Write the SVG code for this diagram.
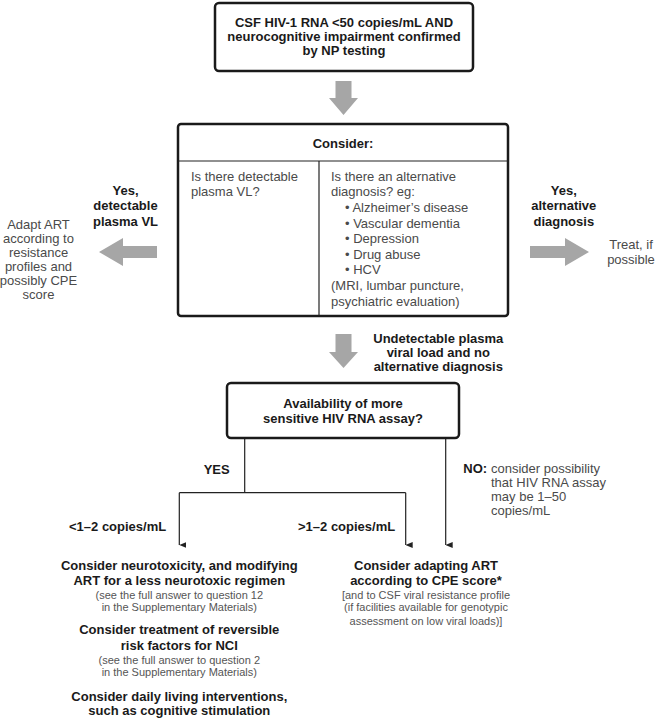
<svg xmlns="http://www.w3.org/2000/svg" width="658" height="720" viewBox="0 0 658 720">
<style>
.b{font-family:"Liberation Sans",Arial,sans-serif;font-weight:bold;font-size:13px;fill:#1a1a1a}
.r{font-family:"Liberation Sans",Arial,sans-serif;font-size:13px;fill:#4a4a4a}
.s{font-family:"Liberation Sans",Arial,sans-serif;font-size:11px;fill:#555}
.m{text-anchor:middle}
.box{fill:#fff;stroke:#1a1a1a;stroke-width:2.5}
.ln{fill:none;stroke:#222;stroke-width:1.2}
.ga{fill:#a6a6a6}
</style>
<defs>
<marker id="ah" markerWidth="6" markerHeight="7" refX="3" refY="7" orient="auto" markerUnits="userSpaceOnUse" viewBox="0 0 6 7">
<path d="M0,0 L6,0 L3,7 Z" fill="#222"/>
</marker>
</defs>
<rect width="658" height="720" fill="#fff"/>

<g id="connectors">
<polygon class="ga" points="335.5,81 351.5,81 351.5,98 358,98 343.5,115 329,98 335.5,98"/>
<polygon class="ga" points="335.5,334 351.5,334 351.5,352 358,352 343.5,368 329,352 335.5,352"/>
<polygon class="ga" points="157,246 123,246 123,238 99,252 123,266 123,258 157,258"/>
<polygon class="ga" points="530,246 565,246 565,238 589,252 565,266 565,258 530,258"/>
<path class="ln" d="M244.7,438 V492.7 M179.3,492.7 H405.7 M179.3,492.7 V545" marker-end="url(#ah)"/>
<path class="ln" d="M405.7,492.7 V545" marker-end="url(#ah)"/>
<path class="ln" d="M445.7,438 V545" marker-end="url(#ah)"/>
</g>

<g id="start">
<rect class="box" x="215" y="3" width="258" height="68" rx="4"/>
<text class="b m" x="344" y="26.5">CSF HIV-1 RNA &lt;50 copies/mL AND</text>
<text class="b m" x="344" y="40.5">neurocognitive impairment confirmed</text>
<text class="b m" x="344" y="54.7">by NP testing</text>
</g>

<g id="consider">
<rect class="box" x="178" y="124" width="330" height="192" rx="3"/>
<line class="ln" x1="178" y1="161" x2="508" y2="161"/>
<line class="ln" x1="319" y1="161" x2="319" y2="316"/>
<text class="b m" x="343" y="148">Consider:</text>
<text class="r" x="191" y="180.7">Is there detectable</text>
<text class="r" x="191" y="196.3">plasma VL?</text>
<text class="r" x="331" y="180.7">Is there an alternative</text>
<text class="r" x="331" y="196.3">diagnosis? eg:</text>
<text class="r" x="345" y="212">• Alzheimer’s disease</text>
<text class="r" x="345" y="227.5">• Vascular dementia</text>
<text class="r" x="345" y="243">• Depression</text>
<text class="r" x="345" y="258.5">• Drug abuse</text>
<text class="r" x="345" y="274">• HCV</text>
<text class="r" x="331" y="290">(MRI, lumbar puncture,</text>
<text class="r" x="331" y="305.5">psychiatric evaluation)</text>
</g>

<g id="left-label">
<text class="b m" x="125.5" y="194.7">Yes,</text>
<text class="b m" x="125.5" y="210.2">detectable</text>
<text class="b m" x="125.5" y="225.7">plasma VL</text>
</g>
<g id="adapt-art">
<text class="r m" x="38.5" y="228.5">Adapt ART</text>
<text class="r m" x="38.5" y="242.5">according to</text>
<text class="r m" x="38.5" y="256.5">resistance</text>
<text class="r m" x="38.5" y="270.5">profiles and</text>
<text class="r m" x="38.5" y="284.5">possibly CPE</text>
<text class="r m" x="38.5" y="298.5">score</text>
</g>

<g id="right-label">
<text class="b m" x="563.8" y="194.7">Yes,</text>
<text class="b m" x="563.8" y="210.2">alternative</text>
<text class="b m" x="563.8" y="225.7">diagnosis</text>
</g>
<g id="treat">
<text class="r m" x="631" y="249">Treat, if</text>
<text class="r m" x="631" y="263.7">possible</text>
</g>

<g id="undetectable-label">
<text class="b m" x="438.3" y="342.5">Undetectable plasma</text>
<text class="b m" x="438.3" y="356.5">viral load and no</text>
<text class="b m" x="438.3" y="370.5">alternative diagnosis</text>
</g>

<g id="assay">
<rect class="box" x="227" y="383" width="232" height="55" rx="4"/>
<text class="b m" x="343" y="408">Availability of more</text>
<text class="b m" x="343" y="423">sensitive HIV RNA assay?</text>
</g>

<g id="branch-labels">
<text class="b m" x="216.7" y="474">YES</text>
<text class="b" x="69" y="530.7">&lt;1–2 copies/mL</text>
<text class="b" x="298" y="530.7">&gt;1–2 copies/mL</text>
<text class="b" x="463.3" y="473">NO:</text>
<text class="r" x="491" y="473">consider possibility</text>
<text class="r" x="491" y="487">that HIV RNA assay</text>
<text class="r" x="491" y="501">may be 1–50</text>
<text class="r" x="491" y="515">copies/mL</text>
</g>

<g id="low-outcome">
<text class="b m" x="179.3" y="570">Consider neurotoxicity, and modifying</text>
<text class="b m" x="179.3" y="585">ART for a less neurotoxic regimen</text>
<text class="s m" x="179.3" y="598.5">(see the full answer to question 12</text>
<text class="s m" x="179.3" y="611">in the Supplementary Materials)</text>
<text class="b m" x="179.3" y="634">Consider treatment of reversible</text>
<text class="b m" x="179.3" y="649.5">risk factors for NCI</text>
<text class="s m" x="179.3" y="663.5">(see the full answer to question 2</text>
<text class="s m" x="179.3" y="676">in the Supplementary Materials)</text>
<text class="b m" x="179.3" y="700.5">Consider daily living interventions,</text>
<text class="b m" x="179.3" y="715">such as cognitive stimulation</text>
</g>

<g id="high-outcome">
<text class="b m" x="426" y="570">Consider adapting ART</text>
<text class="b m" x="426" y="585">according to CPE score*</text>
<text class="s m" x="426" y="598.5">[and to CSF viral resistance profile</text>
<text class="s m" x="426" y="611">(if facilities available for genotypic</text>
<text class="s m" x="426" y="624.5">assessment on low viral loads)]</text>
</g>
</svg>
